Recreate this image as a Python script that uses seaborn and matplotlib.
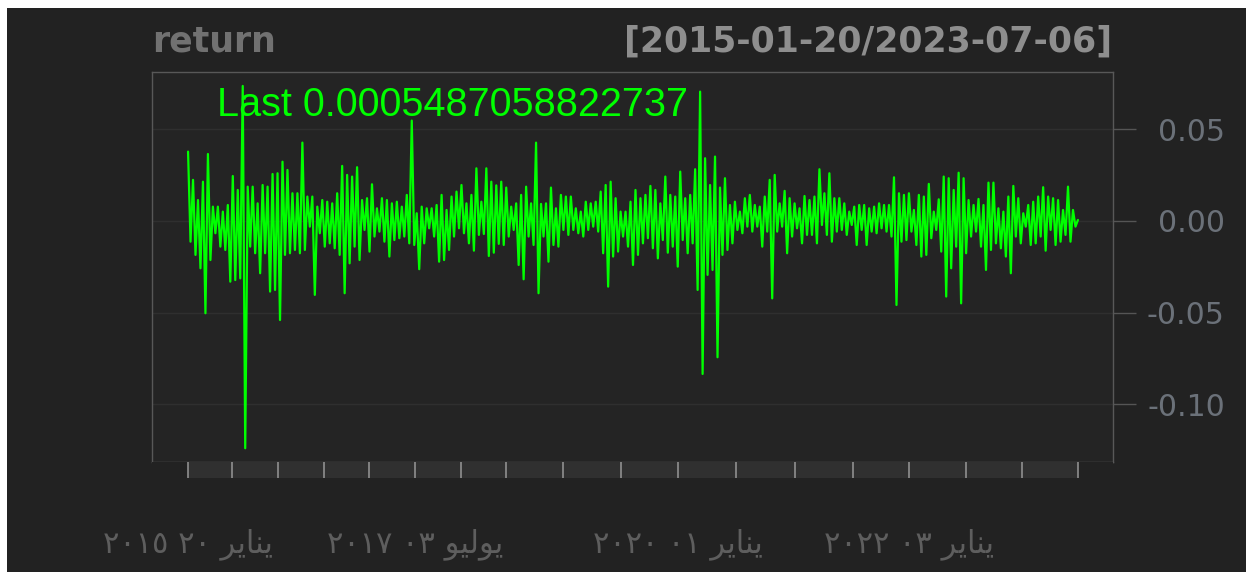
import numpy as np
import pandas as pd
import seaborn as sns
import matplotlib.pyplot as plt
from matplotlib.patches import Rectangle

# daily returns, read off the picture as the high / low reached in each
# narrow slice of the chart (left to right)
col_high = [
    0.0378, 0.0224, 0.0114, 0.0214, 0.0365, 0.0078, 0.0078, 0.0051, 0.0087, 0.0245,
    0.0169, 0.0736, 0.0187, 0.0187, 0.0096, 0.0196, 0.0187, 0.0256, 0.0260, 0.0323,
    0.0278, 0.0151, 0.0151, 0.0427, 0.0133, 0.0133, 0.0078, 0.0114, 0.0105, 0.0096,
    0.0151, 0.0300, 0.0251, 0.0242, 0.0293, 0.0114, 0.0124, 0.0200, 0.0069, 0.0124,
    0.0114, 0.0096, 0.0105, 0.0078, 0.0142, 0.0547, 0.0042, 0.0078, 0.0069, 0.0069,
    0.0087, 0.0142, 0.0060, 0.0133, 0.0160, 0.0196, 0.0096, 0.0142, 0.0287, 0.0105,
    0.0287, 0.0214, 0.0194, 0.0214, 0.0182, 0.0078, 0.0096, 0.0142, 0.0187, 0.0096,
    0.0427, 0.0093, 0.0096, 0.0182, 0.0069, 0.0142, 0.0133, 0.0133, 0.0069, 0.0051,
    0.0105, 0.0096, 0.0105, 0.0160, 0.0196, 0.0214, 0.0124, 0.0051, 0.0051, 0.0105,
    0.0169, 0.0124, 0.0142, 0.0191, 0.0169, 0.0096, 0.0242, 0.0142, 0.0133, 0.0269,
    0.0124, 0.0142, 0.0282, 0.0705, 0.0342, 0.0196, 0.0351, 0.0182, 0.0233, 0.0087,
    0.0105, 0.0051, 0.0124, 0.0142, 0.0087, 0.0078, 0.0133, 0.0224, 0.0251, 0.0096,
    0.0164, 0.0124, 0.0096, 0.0069, 0.0136, 0.0114, 0.0133, 0.0282, 0.0151, 0.0260,
    0.0124, 0.0124, 0.0096, 0.0051, 0.0078, 0.0087, 0.0087, 0.0069, 0.0078, 0.0096,
    0.0087, 0.0087, 0.0238, 0.0151, 0.0142, 0.0151, 0.0060, 0.0142, 0.0133, 0.0202,
    0.0051, 0.0118, 0.0242, 0.0233, 0.0169, 0.0263, 0.0233, 0.0114, 0.0087, 0.0120,
    0.0087, 0.0209, 0.0209, 0.0069, 0.0051, 0.0133, 0.0191, 0.0124, 0.0042, 0.0087,
    0.0105, 0.0133, 0.0184, 0.0133, 0.0124, 0.0114, 0.0060, 0.0187, 0.0060,
]
col_low = [
    -0.0113, -0.0185, -0.0258, -0.0503, -0.0213, -0.0067, -0.0140, -0.0158, -0.0331, -0.0322,
    -0.0313, -0.1239, -0.0140, -0.0176, -0.0285, -0.0176, -0.0385, -0.0376, -0.0540, -0.0185,
    -0.0176, -0.0158, -0.0176, -0.0158, -0.0031, -0.0403, -0.0067, -0.0140, -0.0122, -0.0149,
    -0.0185, -0.0394, -0.0231, -0.0140, -0.0213, -0.0049, -0.0167, -0.0085, -0.0058, -0.0113,
    -0.0194, -0.0104, -0.0094, -0.0085, -0.0122, -0.0131, -0.0263, -0.0122, -0.0040, -0.0085,
    -0.0222, -0.0213, -0.0158, -0.0085, -0.0040, -0.0067, -0.0122, -0.0162, -0.0076, -0.0071,
    -0.0191, -0.0173, -0.0125, -0.0131, -0.0085, -0.0049, -0.0240, -0.0318, -0.0085, -0.0131,
    -0.0394, -0.0085, -0.0222, -0.0131, -0.0140, -0.0049, -0.0076, -0.0049, -0.0067, -0.0085,
    -0.0049, -0.0031, -0.0058, -0.0176, -0.0358, -0.0194, -0.0167, -0.0085, -0.0140, -0.0240,
    -0.0185, -0.0122, -0.0094, -0.0149, -0.0204, -0.0104, -0.0173, -0.0140, -0.0249, -0.0104,
    -0.0176, -0.0122, -0.0376, -0.0834, -0.0294, -0.0267, -0.0743, -0.0185, -0.0158, -0.0122,
    -0.0049, -0.0067, -0.0031, -0.0058, -0.0031, -0.0140, -0.0058, -0.0422, -0.0058, -0.0031,
    -0.0176, -0.0085, -0.0040, -0.0122, -0.0076, -0.0076, -0.0122, -0.0022, -0.0076, -0.0113,
    -0.0058, -0.0049, -0.0076, -0.0022, -0.0131, -0.0049, -0.0131, -0.0058, -0.0067, -0.0040,
    -0.0058, -0.0085, -0.0458, -0.0113, -0.0104, -0.0058, -0.0131, -0.0194, -0.0185, -0.0094,
    -0.0049, -0.0167, -0.0412, -0.0258, -0.0140, -0.0449, -0.0176, -0.0085, -0.0058, -0.0140,
    -0.0267, -0.0158, -0.0122, -0.0149, -0.0194, -0.0285, -0.0085, -0.0122, -0.0031, -0.0131,
    -0.0122, -0.0085, -0.0162, -0.0049, -0.0131, -0.0113, -0.0076, -0.0113, -0.0031,
]
last_value = 0.0005487058822737

# half-year ticks (observation position on the index axis)
tick_pos = [0, 17.7, 36.2, 54.7, 72.8, 91.3, 109.8, 127.9, 150.8, 174.2,
            197.1, 220.4, 244.2, 267.5, 290.0, 312.9, 335.5, 358]
# labelled ticks: 2015-01-20, 2017-07-03, 2020-01-01, 2022-01-03
# (Arabic written in visual order with presentation forms, as matplotlib does no shaping)
label_idx = [0, 5, 10, 14]
tick_labels = ["٢٠١٥ ٢٠ ﺮﻳﺎﻨﻳ", "٢٠١٧ ٠٣ ﻮﻴﻟﻮﻳ", "٢٠٢٠ ٠١ ﺮﻳﺎﻨﻳ", "٢٠٢٢ ٠٣ ﺮﻳﺎﻨﻳ"]
y_ticks = [-0.10, -0.05, 0.00, 0.05]

series = np.empty(2 * len(col_high))
series[0::2] = col_high
series[1::2] = col_low
series = np.append(series, last_value)
df = pd.DataFrame({"obs": np.arange(len(series)), "ret": series})

sns.set_theme(style="dark")
plt.rcParams["font.family"] = ["Liberation Sans", "DejaVu Sans"]
plt.rcParams["axes.unicode_minus"] = False

fig = plt.figure(figsize=(12.46, 5.72), dpi=100, facecolor="white")
fig.add_artist(Rectangle((7 / 1246, 0), 1, 564 / 572, transform=fig.transFigure,
                         facecolor="#222222", edgecolor="none", zorder=-1))

ax = fig.add_axes([152 / 1246, 110 / 572, 961 / 1246, 390 / 572])
ax.set_facecolor("#242424")
sns.lineplot(data=df, x="obs", y="ret", ax=ax, color="#00ff00", linewidth=1.6,
             estimator=None, sort=False)
xlim = (-14.5, 372.1)
ax.set_xlim(xlim)
ax.set_ylim(-0.1314, 0.0812)
ax.set_xticks([])
ax.set_xlabel("")
ax.set_ylabel("")
ax.set_yticks(y_ticks)
ax.set_yticklabels([f"{v:.2f}" for v in y_ticks])
ax.yaxis.tick_right()
ax.tick_params(axis="y", right=True, left=False, length=16.5, width=1,
               color="#555555", pad=64, labelsize=21.5, labelcolor="#6b7179")
for lbl in ax.get_yticklabels():
    lbl.set_ha("right")
    lbl.set_family("DejaVu Sans")
ax.grid(axis="y", color="#2f2f2f", linewidth=1)
ax.grid(axis="x", visible=False)
for s in ax.spines.values():
    s.set_visible(True)
    s.set_color("#585858")
    s.set_linewidth(1)

ax.text((217 - 152) / 961, (462 - 105) / 390, f"Last {last_value}",
        transform=ax.transAxes, color="#00ff00", fontsize=28.5, va="center",
        family="Liberation Sans")

# tick band under the panel
axb = fig.add_axes([152 / 1246, 94 / 572, 961 / 1246, 16 / 572])
axb.set_facecolor("#222222")
axb.set_xlim(xlim)
axb.set_ylim(0, 1)
axb.axvspan(tick_pos[0], tick_pos[-1], color="#303030", lw=0)
axb.vlines(tick_pos, 0, 1, color="#8f8f8f", linewidth=1.2)
for s in axb.spines.values():
    s.set_visible(False)
axb.set_yticks([])
axb.set_xticks([tick_pos[i] for i in label_idx])
axb.set_xticklabels(tick_labels)
axb.tick_params(axis="x", length=0, pad=36, labelsize=22, labelcolor="#5e5e5e")
for lbl in axb.get_xticklabels():
    lbl.set_family("DejaVu Sans")
axb.grid(False)

fig.text(152 / 1246, 1 - 42 / 572, "return", color="#717171", fontsize=25,
         fontweight="bold", va="center", ha="left", family="DejaVu Sans")
fig.text(1112 / 1246, 1 - 42 / 572, "[2015-01-20/2023-07-06]", color="#8e8e8e",
         fontsize=25, fontweight="bold", va="center", ha="right", family="DejaVu Sans")

fig.savefig("out.png", dpi=100, facecolor=fig.get_facecolor())
